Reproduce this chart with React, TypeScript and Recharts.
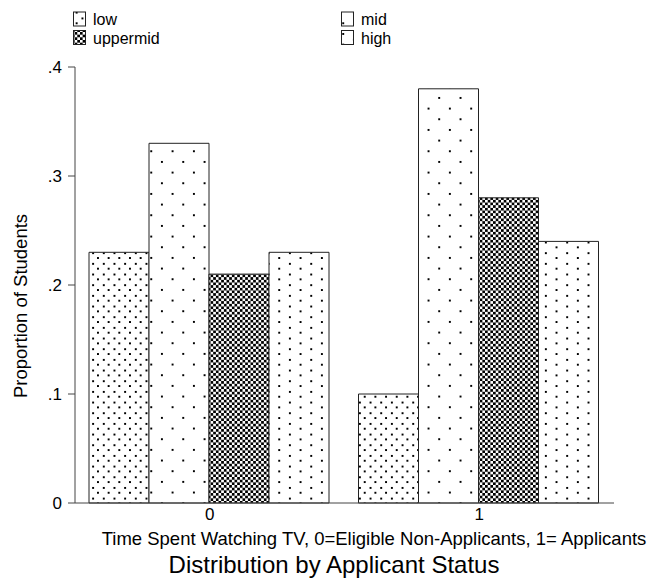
import React from "react";
import { BarChart, Bar, XAxis, YAxis } from "recharts";

const groups = ["0", "1"];
const low = [0.23, 0.1];
const mid = [0.33, 0.38];
const uppermid = [0.21, 0.28];
const high = [0.23, 0.24];
const yTicks = [0, 0.1, 0.2, 0.3, 0.4];

const series = [
  { key: "low", fill: "url(#pLow)" },
  { key: "mid", fill: "url(#pMid)" },
  { key: "uppermid", fill: "url(#pUpper)" },
  { key: "high", fill: "url(#pHigh)" },
];

const data = groups.map((g, i) => ({
  group: g,
  low: low[i],
  mid: mid[i],
  uppermid: uppermid[i],
  high: high[i],
}));

const FONT = "'Liberation Sans', Arial, Helvetica, sans-serif";

function Patterns() {
  return (
    <defs>
      <pattern id="pLow" width={10.67} height={10.67} patternUnits="userSpaceOnUse">
        <rect width={10.67} height={10.67} fill="#fff" />
        <rect x={1} y={1} width={2} height={2} fill="#000" shapeRendering="crispEdges" />
        <rect x={6.33} y={6.33} width={2} height={2} fill="#000" shapeRendering="crispEdges" />
      </pattern>
      <pattern id="pMid" width={21.33} height={21.33} patternUnits="userSpaceOnUse">
        <rect width={21.33} height={21.33} fill="#fff" />
        <rect x={1} y={1} width={2} height={2} fill="#000" shapeRendering="crispEdges" />
        <rect x={11.67} y={11.67} width={2} height={2} fill="#000" shapeRendering="crispEdges" />
      </pattern>
      <pattern id="pHigh" width={21.33} height={10.67} patternUnits="userSpaceOnUse">
        <rect width={21.33} height={10.67} fill="#fff" />
        <rect x={1} y={1} width={2} height={2} fill="#000" shapeRendering="crispEdges" />
        <rect x={11.67} y={6.33} width={2} height={2} fill="#000" shapeRendering="crispEdges" />
      </pattern>
      <pattern id="pUpper" width={5.33} height={5.33} patternUnits="userSpaceOnUse">
        <rect width={5.33} height={5.33} fill="#fff" />
        <rect x={0} y={0} width={2.3} height={2.3} fill="#000" shapeRendering="crispEdges" />
        <rect x={2.67} y={2.67} width={2.3} height={2.3} fill="#000" shapeRendering="crispEdges" />
      </pattern>
    </defs>
  );
}

function LegendItem({ x, y, label, fill }: { x: number; y: number; label: string; fill: string }) {
  return (
    <g>
      <rect x={x} y={y} width={12} height={14} fill={fill} stroke="#222" strokeWidth={1} />
      <text x={x + 19.5} y={y + 13} fontSize={16} fontFamily={FONT} fill="#000">
        {label}
      </text>
    </g>
  );
}

function Titles() {
  return (
    <g>
      <LegendItem x={73.5} y={12} label="low" fill="url(#pLow)" />
      <LegendItem x={73.5} y={30.5} label="uppermid" fill="url(#pUpper)" />
      <LegendItem x={341.5} y={12} label="mid" fill="url(#pMid)" />
      <LegendItem x={341.5} y={30.5} label="high" fill="url(#pHigh)" />
      <text x={374} y={545} textAnchor="middle" fontSize={18.5} fontFamily={FONT} fill="#000">
        Time Spent Watching TV, 0=Eligible Non-Applicants, 1= Applicants
      </text>
      <text x={334} y={573} textAnchor="middle" fontSize={24} fontFamily={FONT} fill="#000">
        Distribution by Applicant Status
      </text>
      <text
        x={0}
        y={0}
        transform="translate(27, 398) rotate(-90)"
        textAnchor="start"
        fontSize={18.5}
        fontFamily={FONT}
        fill="#000"
      >
        Proportion of Students
      </text>
    </g>
  );
}

export default function App() {
  return (
    <div style={{ position: "absolute", left: 0, top: 0, width: 666, height: 579, background: "#fff" }}>
      <BarChart
        width={666}
        height={579}
        data={data}
        margin={{ top: 67, right: 52, bottom: 46, left: 0 }}
        barCategoryGap={14}
        barGap={0}
      >
        <Patterns />
        <XAxis
          dataKey="group"
          height={30}
          tickLine={false}
          tickSize={0}
          tickMargin={5}
          axisLine={{ stroke: "#444" }}
          tick={{ fontSize: 17, fontFamily: FONT, fill: "#000" }}
          label={{ content: () => <Titles /> }}
        />
        <YAxis
          width={75}
          domain={[0, 0.4]}
          ticks={yTicks}
          interval={0}
          tickSize={7}
          tickMargin={6}
          axisLine={{ stroke: "#444" }}
          tickLine={{ stroke: "#444" }}
          tick={{ fontSize: 17, fontFamily: FONT, fill: "#000" }}
          tickFormatter={(v: number) => (v === 0 ? "0" : String(v).replace(/^0/, ""))}
        />
        {series.map((s) => (
          <Bar
            key={s.key}
            dataKey={s.key}
            fill={s.fill}
            stroke="#222"
            strokeWidth={1}
            isAnimationActive={false}
          />
        ))}
      </BarChart>
    </div>
  );
}
